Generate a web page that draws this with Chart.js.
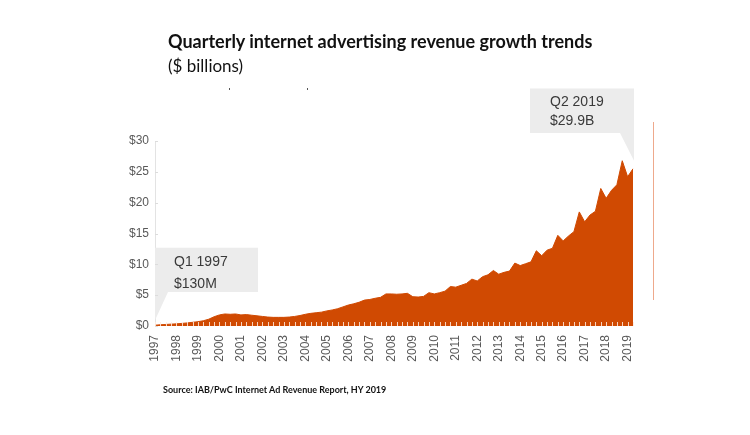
<!DOCTYPE html>
<html>
<head>
<meta charset="utf-8">
<script src="https://cdn.jsdelivr.net/npm/chart.js@4.4.1/dist/chart.umd.min.js"></script>
<style>
  html, body { margin: 0; padding: 0; background: #ffffff; }
  #wrap { position: relative; width: 750px; height: 435px; overflow: hidden; }
  #c { position: absolute; left: 0; top: 0; }
  .title { position: absolute; left: 168px; top: 30px; font-family: Lato, "Open Sans", sans-serif; font-weight: 700; font-size: 18px; color: #111; white-space: nowrap; }
  .sub { position: absolute; left: 168px; top: 55px; font-family: Lato, "Open Sans", sans-serif; font-weight: 400; font-size: 17px; color: #111; white-space: nowrap; }
  .src { position: absolute; left: 163px; top: 384px; font-family: Lato, "Open Sans", sans-serif; font-weight: 700; font-size: 9px; color: #111; white-space: nowrap; }
  .dot { position: absolute; width: 1px; height: 2px; background: #555; }
  .vline { position: absolute; left: 653px; top: 122px; width: 1px; height: 178px; background: #eea98c; }
</style>
</head>
<body>
<div id="wrap">
  <canvas id="c" width="750" height="435"></canvas>
  <div class="title">Quarterly internet advertising revenue growth trends</div>
  <div class="sub">($ billions)</div>
  <div class="dot" style="left:229px;top:88px"></div>
  <div class="dot" style="left:307px;top:88px"></div>
  <div class="vline"></div>
  <div class="src">Source: IAB/PwC Internet Ad Revenue Report, HY 2019</div>
</div>
<script>
// ---- data ----
const years = ['1997','1998','1999','2000','2001','2002','2003','2004','2005','2006','2007','2008',
               '2009','2010','2011','2012','2013','2014','2015','2016','2017','2018','2019'];
const quarters = ['Q1','Q2','Q3','Q4'];
// Quarterly revenue, $ billions, Q1 1997 .. Q2 2019
const revenue = [
  0.13, 0.20, 0.25, 0.30,   // 1997
  0.35, 0.42, 0.50, 0.60,   // 1998
  0.70, 0.85, 1.10, 1.50,   // 1999
  1.80, 1.95, 1.90, 1.95,   // 2000
  1.80, 1.85, 1.75, 1.65,   // 2001
  1.55, 1.45, 1.40, 1.40,   // 2002
  1.40, 1.45, 1.55, 1.70,   // 2003
  1.90, 2.05, 2.15, 2.25,   // 2004
  2.45, 2.60, 2.80, 3.10,   // 2005
  3.40, 3.60, 3.85, 4.20,   // 2006
  4.30, 4.50, 4.65, 5.20,   // 2007
  5.20, 5.15, 5.20, 5.30,   // 2008
  4.75, 4.70, 4.80, 5.40,   // 2009
  5.20, 5.40, 5.65, 6.40,   // 2010
  6.30, 6.60, 6.90, 7.60,   // 2011
  7.30, 8.00, 8.30, 9.00,   // 2012
  8.40, 8.70, 8.90, 10.20,  // 2013
  9.80, 10.10, 10.40, 12.20,// 2014
  11.40, 12.30, 12.60, 14.70, // 2015
  13.80, 14.60, 15.30, 18.50, // 2016
  16.90, 18.00, 18.60, 22.30, // 2017
  20.70, 22.00, 22.90, 26.80, // 2018
  24.20, 25.50                // 2019
];
const categories = [];
years.forEach(y => quarters.forEach(q => categories.push(q + ' ' + y)));
categories.length = revenue.length;
const yTicks = [0, 5, 10, 15, 20, 25, 30];
const callouts = [
  { index: 0, lines: ['Q1 1997', '$130M'], side: 'left' },
  { index: revenue.length - 1, lines: ['Q2 2019', '$29.9B'], side: 'right' }
];

const ORANGE = '#d04a02';
const GREY = '#ececec';
const TICK_FONT = { family: '"Liberation Sans", Arial, sans-serif', size: 12 };

const decorPlugin = {
  id: 'decor',
  beforeDatasetsDraw(chart) {
    const ctx = chart.ctx;
    const meta = chart.getDatasetMeta(0);
    const yS = chart.scales.y;
    ctx.save();
    callouts.forEach(c => {
      const p = meta.data[c.index];
      ctx.fillStyle = GREY;
      ctx.beginPath();
      if (c.side === 'left') {
        const x0 = p.x, tipY = p.y - 5;
        const top = yS.getPixelForValue(12.7), bot = yS.getPixelForValue(5.5);
        ctx.moveTo(x0, top); ctx.lineTo(x0 + 103, top); ctx.lineTo(x0 + 103, bot);
        ctx.lineTo(x0 + 13, bot); ctx.lineTo(x0, tipY); ctx.closePath();
        ctx.fill();
        ctx.fillStyle = '#3a3a3a';
        ctx.font = '14px "Liberation Sans", Arial, sans-serif';
        ctx.textBaseline = 'middle';
        ctx.fillText(c.lines[0], x0 + 19, top + 14);
        ctx.fillText(c.lines[1], x0 + 19, top + 36);
      } else {
        const x1 = p.x + 1, tipY = p.y - 8;
        const top = yS.getPixelForValue(38.5), bot = yS.getPixelForValue(31.3);
        ctx.moveTo(x1 - 104, top); ctx.lineTo(x1, top); ctx.lineTo(x1, tipY);
        ctx.lineTo(x1 - 14, bot); ctx.lineTo(x1 - 104, bot); ctx.closePath();
        ctx.fill();
        ctx.fillStyle = '#3a3a3a';
        ctx.font = '14px "Liberation Sans", Arial, sans-serif';
        ctx.textBaseline = 'middle';
        ctx.fillText(c.lines[0], x1 - 84, top + 14);
        ctx.fillText(c.lines[1], x1 - 84, top + 33);
      }
    });
    ctx.restore();
  },
  afterDatasetsDraw(chart) {
    // small light tick marks along the bottom of the area at each quarter
    const ctx = chart.ctx;
    const xS = chart.scales.x;
    const b = chart.chartArea.bottom;
    ctx.save();
    ctx.strokeStyle = 'rgba(255,235,225,0.85)';
    ctx.lineWidth = 1;
    for (let i = 0; i < categories.length; i++) {
      const x = Math.round(xS.getPixelForValue(i)) + 0.5;
      ctx.beginPath(); ctx.moveTo(x, b - 4); ctx.lineTo(x, b); ctx.stroke();
    }
    // y-axis tick stubs
    const yS = chart.scales.y;
    ctx.strokeStyle = '#dcdcdc';
    yTicks.forEach(v => {
      const y = Math.round(yS.getPixelForValue(v)) + 0.5;
      const x = chart.chartArea.left;
      ctx.beginPath(); ctx.moveTo(x, y); ctx.lineTo(x + 3, y); ctx.stroke();
    });
    ctx.restore();
  }
};

new Chart(document.getElementById('c'), {
  type: 'line',
  data: {
    labels: categories,
    datasets: [{
      data: revenue,
      fill: 'origin',
      backgroundColor: ORANGE,
      borderColor: ORANGE,
      borderWidth: 1,
      pointRadius: 0,
      tension: 0
    }]
  },
  options: {
    responsive: false,
    animation: false,
    events: [],
    layout: { padding: { left: 0, right: 117, top: 141, bottom: 59 } },
    plugins: { legend: { display: false }, tooltip: { enabled: false } },
    scales: {
      x: {
        type: 'category',
        offset: false,
        grid: { display: false, drawTicks: false },
        border: { display: false },
        afterFit(s) { s.height = 50; },
        ticks: {
          autoSkip: false,
          minRotation: 90,
          maxRotation: 90,
          padding: 9,
          color: '#595959',
          font: TICK_FONT,
          callback(v, i) { return i % 4 === 0 ? categories[i].split(' ')[1] : ''; }
        }
      },
      y: {
        min: 0,
        max: 30,
        afterFit(s) { s.width = 155; },
        afterBuildTicks(s) { s.ticks = yTicks.map(v => ({ value: v })); },
        grid: { display: false, drawTicks: false },
        border: { display: true, color: '#e3e3e3', width: 1 },
        ticks: {
          padding: 6,
          color: '#595959',
          font: TICK_FONT,
          callback(v) { return '$' + v; }
        }
      }
    }
  },
  plugins: [decorPlugin]
});
</script>
</body>
</html>
